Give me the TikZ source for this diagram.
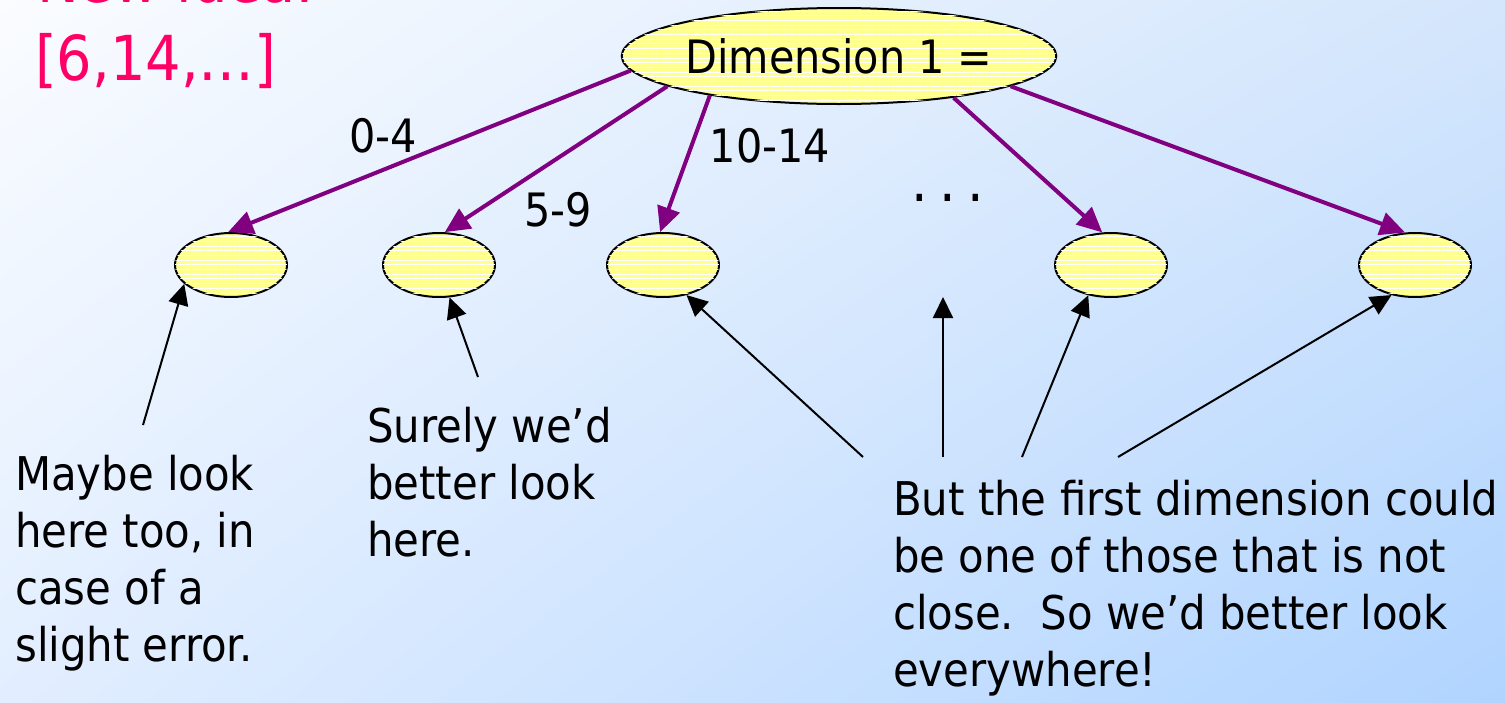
\documentclass[tikz,border=0pt]{standalone}
\usepackage{fontspec}
\setmainfont{DejaVu Sans Condensed}
\usetikzlibrary{shapes.geometric,arrows.meta,patterns.meta,shadings}
\definecolor{arrowpurple}{RGB}{128,0,128}
\definecolor{ideapink}{RGB}{255,0,102}
\definecolor{nodefill}{RGB}{255,255,140}
\definecolor{bgTL}{RGB}{250,252,255}
\definecolor{bgTR}{RGB}{212,230,252}
\definecolor{bgBL}{RGB}{226,238,255}
\definecolor{bgBR}{RGB}{176,212,255}
\tikzset{
  stripedfill/.style={fill=nodefill,
    postaction={pattern={Lines[angle=0,distance=4.7pt,line width=1pt]},pattern color=white}},
  topnode/.style={ellipse,draw=black,line width=2pt,stripedfill,inner sep=0pt,
    minimum width=432pt,minimum height=96pt,font=\fontsize{46}{57}\selectfont},
  cell/.style={ellipse,draw=black,line width=2pt,stripedfill,inner sep=0pt,
    minimum width=112pt,minimum height=64pt},
  note/.style={align=left,inner sep=0pt,anchor=north west,font=\fontsize{46.5}{57}\selectfont},
  rangelabel/.style={inner sep=0pt,anchor=base,font=\fontsize{46}{57}\selectfont},
  ideatext/.style={inner sep=0pt,anchor=base west,text=ideapink,font=\fontsize{62}{70}\selectfont},
  splitarrow/.style={draw=arrowpurple,line width=4pt,-{Triangle[length=25pt,width=23pt]}},
  pointarrow/.style={draw=black,line width=2pt,-{Triangle[length=21pt,width=20pt]}}
}
\begin{document}
\begin{tikzpicture}[x=1pt,y=-1pt]
\shade[upper left=bgTL,upper right=bgTR,lower left=bgBL,lower right=bgBR]
  (0,0) rectangle (1505,702);
\useasboundingbox (0,0) rectangle (1505,702);

\node[ideatext] (newidea) at (37,2) {New idea:};
\node[ideatext] (vec) at (35,80) {[6,14,…]};

\node[topnode] (top) at (839,56) {Dimension 1 =};
\node[cell] (e1) at (231,265) {};
\node[cell] (e2) at (439,265) {};
\node[cell] (e3) at (663,265) {};
\node[cell] (e4) at (1111,265) {};
\node[cell] (e5) at (1415,265) {};

\draw[splitarrow] (top.184.7) -- (e1.95);
\draw[splitarrow] (top.190) -- (e2.80);
\draw[splitarrow] (top.197.7) -- (e3.95);
\draw[splitarrow] (top.340) -- (e4.105);
\draw[splitarrow] (top.350.8) -- (e5.107);

\node[rangelabel] (l04) at (383,152) {0-4};
\node[rangelabel] (l59) at (558,226) {5-9};
\node[rangelabel] (l1014) at (770,162) {10-14};
\node[rangelabel,font=\fontsize{58}{60}\selectfont] (dots) at (948,201) {.\hspace{0.2em}.\hspace{0.2em}.};

\node[note] (maybe) at (15,455) {Maybe look\\here too, in\\case of a\\slight error.};
\node[note] (surely) at (367,407) {Surely we’d\\better look\\here.};
\node[note] (but) at (893,480) {But the first dimension could\\be one of those that is not\\close.\ \ So we’d better look\\everywhere!};

\coordinate (m1) at (143,425);
\coordinate (s1) at (478,377);
\coordinate (b1) at (863,457);
\coordinate (b2) at (943,457);
\coordinate (b2tip) at (943,297);
\coordinate (b3) at (1022,457);
\coordinate (b4) at (1118,457);

\draw[pointarrow] (m1) -- (e1.202);
\draw[pointarrow] (s1) -- (e2.288);
\draw[pointarrow] (b1) -- (e3.308);
\draw[pointarrow] (b2) -- (b2tip);
\draw[pointarrow] (b3) -- (e4.233);
\draw[pointarrow] (b4) -- (e5.232);
\end{tikzpicture}
\end{document}
